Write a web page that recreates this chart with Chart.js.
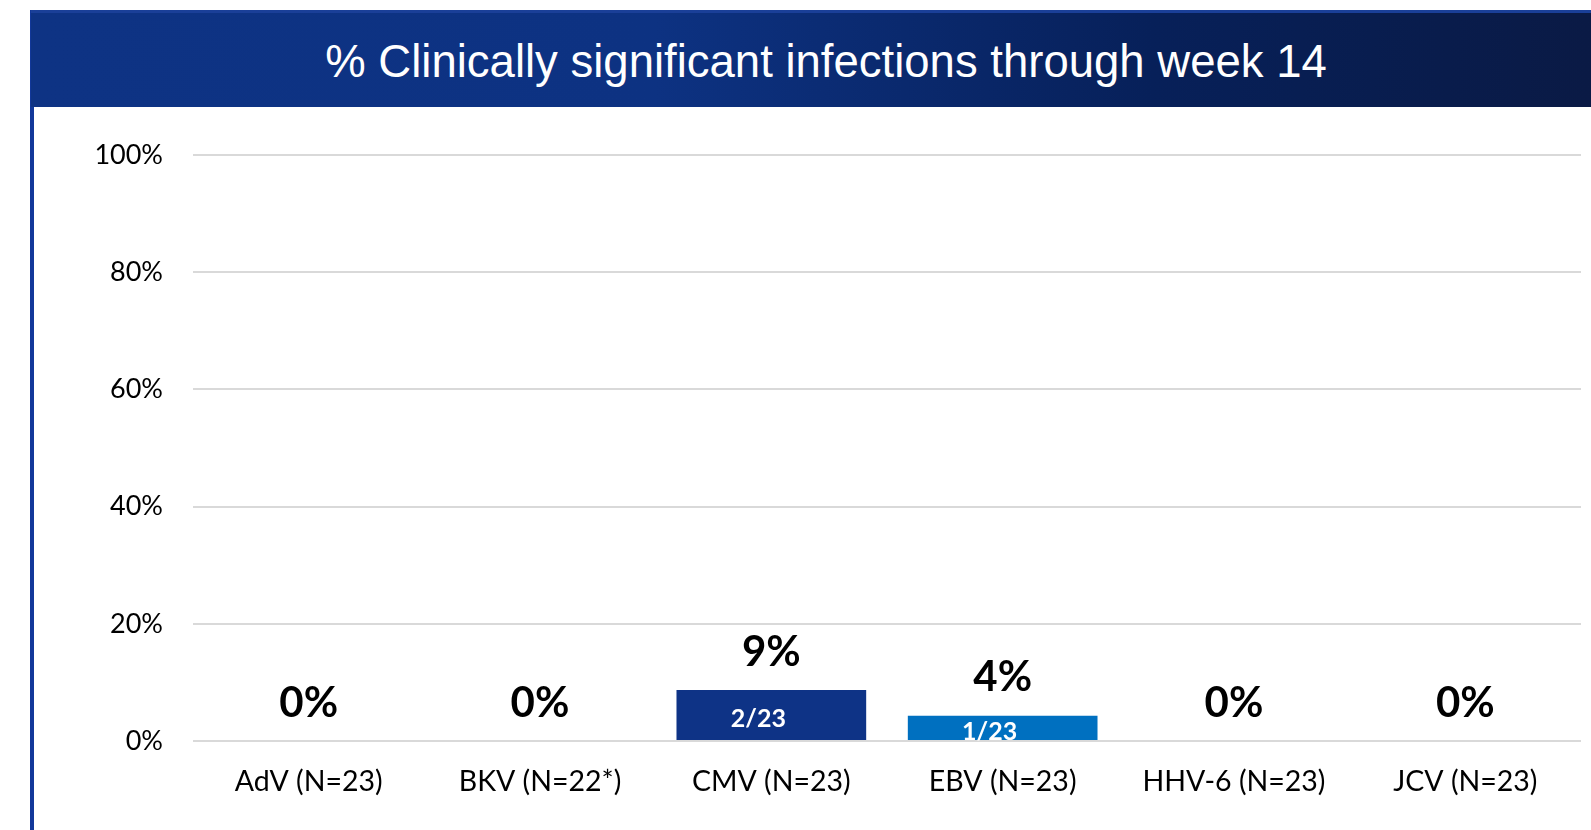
<!DOCTYPE html>
<html>
<head>
<meta charset="utf-8">
<script src="https://cdn.jsdelivr.net/npm/chart.js@4.4.1/dist/chart.umd.min.js"></script>
<style>
  html, body { margin: 0; padding: 0; background: #fff; }
  body { width: 1591px; height: 830px; position: relative; overflow: hidden; }
  #titleBar {
    position: absolute; left: 31px; top: 10px; width: 1560px; height: 97px;
    background: linear-gradient(to right, #0e3384 0%, #0d3282 40%, #072059 72%, #0a1a45 100%);
    border-top: 3px solid #1a3f98; box-sizing: border-box;
    color: #fff; font-family: "Liberation Sans", Arial, sans-serif; font-size: 45.5px;
    line-height: 98px; text-align: center; padding-left: 30px;
  }
  #leftRule { position: absolute; left: 30px; top: 10px; width: 4px; height: 820px; background: #12389a; }
  #wrap { position: absolute; left: 0; top: 0; width: 1591px; height: 830px; }
</style>
</head>
<body>
<div id="wrap"><canvas id="infectionChart"></canvas></div>
<div id="leftRule"></div>
<div id="titleBar">% Clinically significant infections through week 14</div>
<script>
const categories = ["AdV (N=23)", "BKV (N=22*)", "CMV (N=23)", "EBV (N=23)", "HHV-6 (N=23)", "JCV (N=23)"];
const percentValues = [0, 0, 8.7, 4.3, 0, 0];
const percentLabels = ["0%", "0%", "9%", "4%", "0%", "0%"];
const countLabels = ["", "", "2/23", "1/23", "", ""];
const barColors = ["#0e3386", "#0e3386", "#0e3386", "#0070c0", "#0e3386", "#0e3386"];
const yTicks = [0, 20, 40, 60, 80, 100];

document.addEventListener("DOMContentLoaded", function () {
  const ctx = document.getElementById("infectionChart");

  // bold % above each bar, n/N inside it (sits a bit left of centre in the original)
  const barLabels = {
    id: "barLabels",
    afterDatasetsDraw(chart) {
      const c = chart.ctx;
      const meta = chart.getDatasetMeta(0);
      c.save();
      c.textAlign = "center";
      c.textBaseline = "middle";
      meta.data.forEach(function (bar, i) {
        c.fillStyle = "#000";
        c.font = "bold 42px Lato, 'Open Sans', sans-serif";
        c.fillText(percentLabels[i], bar.x, bar.y - 38);
        if (countLabels[i]) {
          c.fillStyle = "#fff";
          c.font = "bold 25px Lato, 'Open Sans', sans-serif";
          c.fillText(countLabels[i], bar.x - 13, (bar.y + bar.base) / 2 + 4);
        }
      });
      c.restore();
    }
  };

  new Chart(ctx, {
    type: "bar",
    data: {
      labels: categories,
      datasets: [
        {
          data: percentValues,
          backgroundColor: barColors,
          borderWidth: 0,
          categoryPercentage: 0.82,
          barPercentage: 1.0,
        },
      ],
    },
    options: {
      responsive: true,
      maintainAspectRatio: false,
      animation: false,
      layout: { padding: { left: 40, right: 10, top: 155, bottom: 0 } },
      plugins: {
        legend: { display: false },
        tooltip: { enabled: false },
      },
      scales: {
        x: {
          grid: { display: false, drawTicks: false },
          border: { display: false },
          ticks: {
            color: "#000",
            padding: 24,
            font: { family: "Lato, 'Open Sans', sans-serif", size: 28.5 },
          },
          afterFit(scale) { scale.height = 89; },
        },
        y: {
          min: 0,
          max: 100,
          grid: { color: "#d9d9d9", lineWidth: 2, drawTicks: false },
          border: { display: false },
          afterBuildTicks(scale) { scale.ticks = yTicks.map(v => ({ value: v })); },
          afterFit(scale) { scale.width = 153; },
          ticks: {
            color: "#000",
            padding: 30,
            font: { family: "Lato, 'Open Sans', sans-serif", size: 27 },
            callback: v => v + "%",
          },
        },
      },
    },
    plugins: [barLabels],
  });
});
</script>
</body>
</html>
